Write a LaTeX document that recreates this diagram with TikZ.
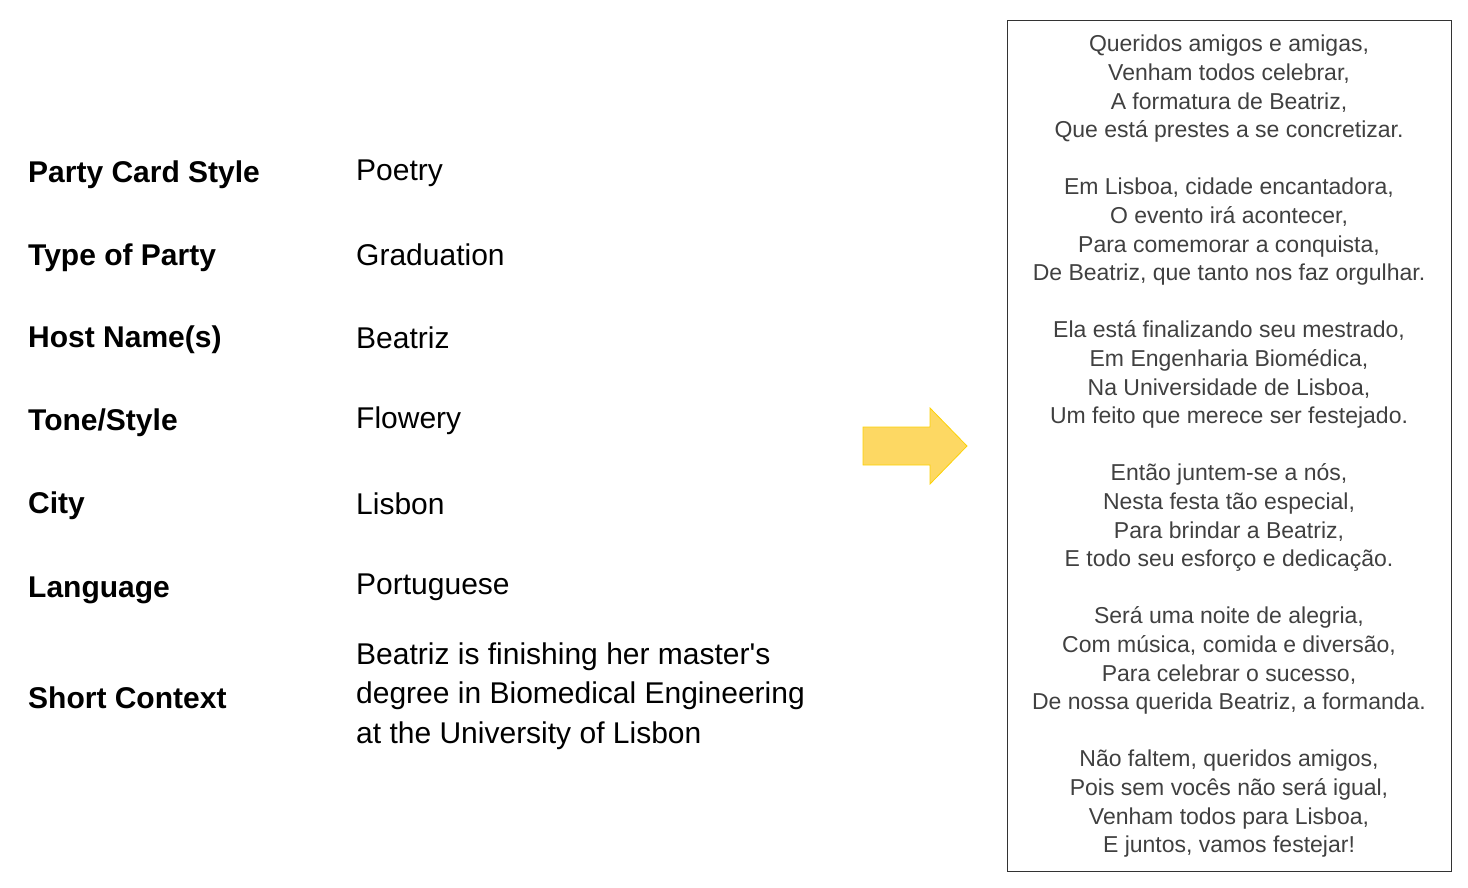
\documentclass[tikz,border=0pt]{standalone}
\usepackage{fontspec}
\setmainfont{Liberation Sans}
\begin{document}
\begin{tikzpicture}[x=1pt,y=-1pt,
  lab/.style={anchor=west,inner sep=0,font=\fontsize{30}{34}\selectfont\bfseries},
  val/.style={anchor=west,inner sep=0,font=\fontsize{30}{39.5}\selectfont,align=left},
  poem/.style={anchor=north,inner sep=0,align=center,font=\fontsize{23}{28.6}\selectfont,text=black!75}]
\useasboundingbox (0,0) rectangle (1468,887);
\node[lab] (l1) at (28,175) {Party Card Style};
\node[lab] (l2) at (28,258) {Type of Party};
\node[lab] (l3) at (28,340) {Host Name(s)};
\node[lab] (l4) at (28,423) {Tone/Style};
\node[lab] (l5) at (28,506) {City};
\node[lab] (l6) at (28,590) {Language};
\node[lab] (l7) at (28,698) {Short Context};
\node[val] (v1) at (356,173) {Poetry};
\node[val] (v2) at (356,255) {Graduation};
\node[val] (v3) at (356,338) {Beatriz};
\node[val] (v4) at (356,421) {Flowery};
\node[val] (v5) at (356,504) {Lisbon};
\node[val] (v6) at (356,587) {Portuguese};
\node[val] (v7) at (356,696) {Beatriz is finishing her master\textquotesingle s\\degree in Biomedical Engineering\\at the University of Lisbon};
\draw[fill=yellow!55!orange!60!white,draw=yellow!70!orange,line width=0.8pt] (863,427) -- (930,427) -- (930,408) -- (967,446) -- (930,484) -- (930,465) -- (863,465) -- cycle;
\node[draw=black!80,line width=1pt,minimum width=444,minimum height=851,anchor=north west,inner sep=0] (box) at (1007,20) {};
\node[poem] (p) at (1229,35) {Queridos amigos e amigas,\\Venham todos celebrar,\\A formatura de Beatriz,\\Que está prestes a se concretizar.\\[28.6pt]
Em Lisboa, cidade encantadora,\\O evento irá acontecer,\\Para comemorar a conquista,\\De Beatriz, que tanto nos faz orgulhar.\\[28.6pt]
Ela está finalizando seu mestrado,\\Em Engenharia Biomédica,\\Na Universidade de Lisboa,\\Um feito que merece ser festejado.\\[28.6pt]
Então juntem-se a nós,\\Nesta festa tão especial,\\Para brindar a Beatriz,\\E todo seu esforço e dedicação.\\[28.6pt]
Será uma noite de alegria,\\Com música, comida e diversão,\\Para celebrar o sucesso,\\De nossa querida Beatriz, a formanda.\\[28.6pt]
Não faltem, queridos amigos,\\Pois sem vocês não será igual,\\Venham todos para Lisboa,\\E juntos, vamos festejar!};
\end{tikzpicture}
\end{document}
